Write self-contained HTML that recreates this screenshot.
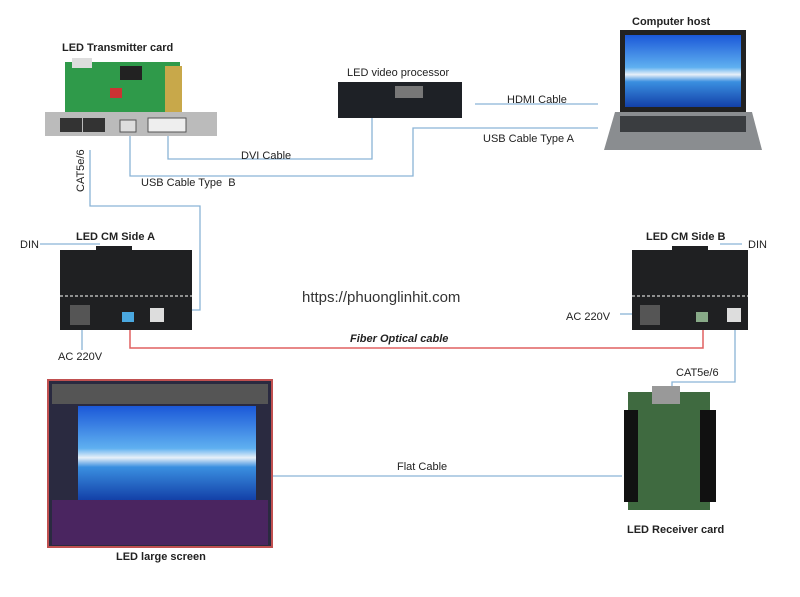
<!DOCTYPE html>
<html><head><meta charset="utf-8"><style>
body{margin:0;background:#fff}
svg text{font-family:"Liberation Sans",sans-serif}
</style></head><body>
<svg width="800" height="592" viewBox="0 0 800 592" xmlns="http://www.w3.org/2000/svg">
<defs>
<linearGradient id="sky" x1="0" y1="0" x2="0" y2="1"><stop offset="0" stop-color="#1b58d8"/><stop offset=".45" stop-color="#5fb0f0"/><stop offset=".55" stop-color="#e8f0f8"/><stop offset=".65" stop-color="#3a8fe0"/><stop offset="1" stop-color="#1340a8"/></linearGradient>
</defs>
<g fill="none" stroke="#8ab4d6" stroke-width="1.3">
<path d="M475 104H598"/>
<path d="M598 128H413V176H130V132"/>
<path d="M168 132V159H372V117"/>
<path d="M90 150V206H200V310H172"/>
<path d="M272 476H622"/>
<path d="M735 330V382H672V410"/>
<path d="M40 244H100"/>
<path d="M742 244H720"/>
<path d="M620 314H632"/>
<path d="M82 330V350"/>
</g>
<path d="M130 320V348H703V320" fill="none" stroke="#e06060" stroke-width="1.5"/>
<rect x="65" y="62" width="115" height="52" fill="#2f9a4a"/>
<rect x="72" y="58" width="20" height="10" fill="#ddd"/>
<rect x="120" y="66" width="22" height="14" fill="#222"/>
<rect x="110" y="88" width="12" height="10" fill="#c33"/>
<polygon points="165,66 182,66 182,112 165,112" fill="#c8a84a"/>
<rect x="45" y="112" width="172" height="24" fill="#bbb"/>
<rect x="60" y="118" width="22" height="14" fill="#333"/>
<rect x="83" y="118" width="22" height="14" fill="#333"/>
<rect x="120" y="120" width="16" height="12" fill="#ddd" stroke="#555"/>
<rect x="148" y="118" width="38" height="14" fill="#eee" stroke="#555"/>
<rect x="338" y="82" width="124" height="36" fill="#1e2126"/>
<rect x="395" y="86" width="28" height="12" fill="#777"/>
<rect x="620" y="30" width="126" height="82" fill="#222"/>
<rect x="625" y="35" width="116" height="72" fill="url(#sky)"/>
<polygon points="615,112 752,112 762,150 604,150" fill="#8a8d90"/>
<rect x="620" y="116" width="126" height="16" fill="#3a3d40"/>
<rect x="60" y="250" width="132" height="80" fill="#1f2022"/>
<rect x="96" y="246" width="36" height="5" fill="#1f2022"/>
<line x1="60" y1="296" x2="192" y2="296" stroke="#fff" stroke-dasharray="3,2"/>
<rect x="70" y="305" width="20" height="20" fill="#555"/>
<rect x="150" y="308" width="14" height="14" fill="#ddd"/>
<rect x="122" y="312" width="12" height="10" fill="#4aa8e0"/>
<rect x="632" y="250" width="116" height="80" fill="#1f2022"/>
<rect x="672" y="246" width="36" height="5" fill="#1f2022"/>
<line x1="632" y1="296" x2="748" y2="296" stroke="#fff" stroke-dasharray="3,2"/>
<rect x="640" y="305" width="20" height="20" fill="#555"/>
<rect x="727" y="308" width="14" height="14" fill="#ddd"/>
<rect x="696" y="312" width="12" height="10" fill="#8a8"/>
<rect x="48" y="380" width="224" height="167" fill="#2a2a40" stroke="#c05050" stroke-width="2"/>
<rect x="52" y="384" width="216" height="20" fill="#555"/>
<rect x="78" y="406" width="178" height="94" fill="url(#sky)"/>
<rect x="52" y="500" width="216" height="45" fill="#4a2560"/>
<rect x="628" y="392" width="82" height="118" fill="#3f6a40"/>
<rect x="652" y="386" width="28" height="18" fill="#999"/>
<g fill="#111"><rect x="624" y="410" width="14" height="92"/><rect x="700" y="410" width="16" height="92"/></g>
<g font-size="11" fill="#222">
<text x="62" y="51" font-weight="bold">LED Transmitter card</text>
<text x="347" y="76">LED video processor</text>
<text x="632" y="25" font-weight="bold">Computer host</text>
<text x="507" y="103">HDMI Cable</text>
<text x="483" y="142">USB Cable Type A</text>
<text x="241" y="159">DVI Cable</text>
<text x="141" y="186">USB Cable Type&#160; B</text>
<text transform="translate(84,192) rotate(-90)">CAT5e/6</text>
<text x="76" y="240" font-weight="bold">LED CM Side A</text>
<text x="646" y="240" font-weight="bold">LED CM Side B</text>
<text x="20" y="248">DIN</text>
<text x="748" y="248">DIN</text>
<text x="566" y="320">AC 220V</text>
<text x="58" y="360">AC 220V</text>
<text x="350" y="342" font-weight="bold" font-style="italic">Fiber Optical cable</text>
<text x="676" y="376">CAT5e/6</text>
<text x="397" y="470">Flat Cable</text>
<text x="116" y="560" font-weight="bold">LED large screen</text>
<text x="627" y="533" font-weight="bold">LED Receiver card</text>
<text x="302" y="302" font-size="15" fill="#333">https://phuonglinhit.com</text>
</g>
</svg>
</body></html>
